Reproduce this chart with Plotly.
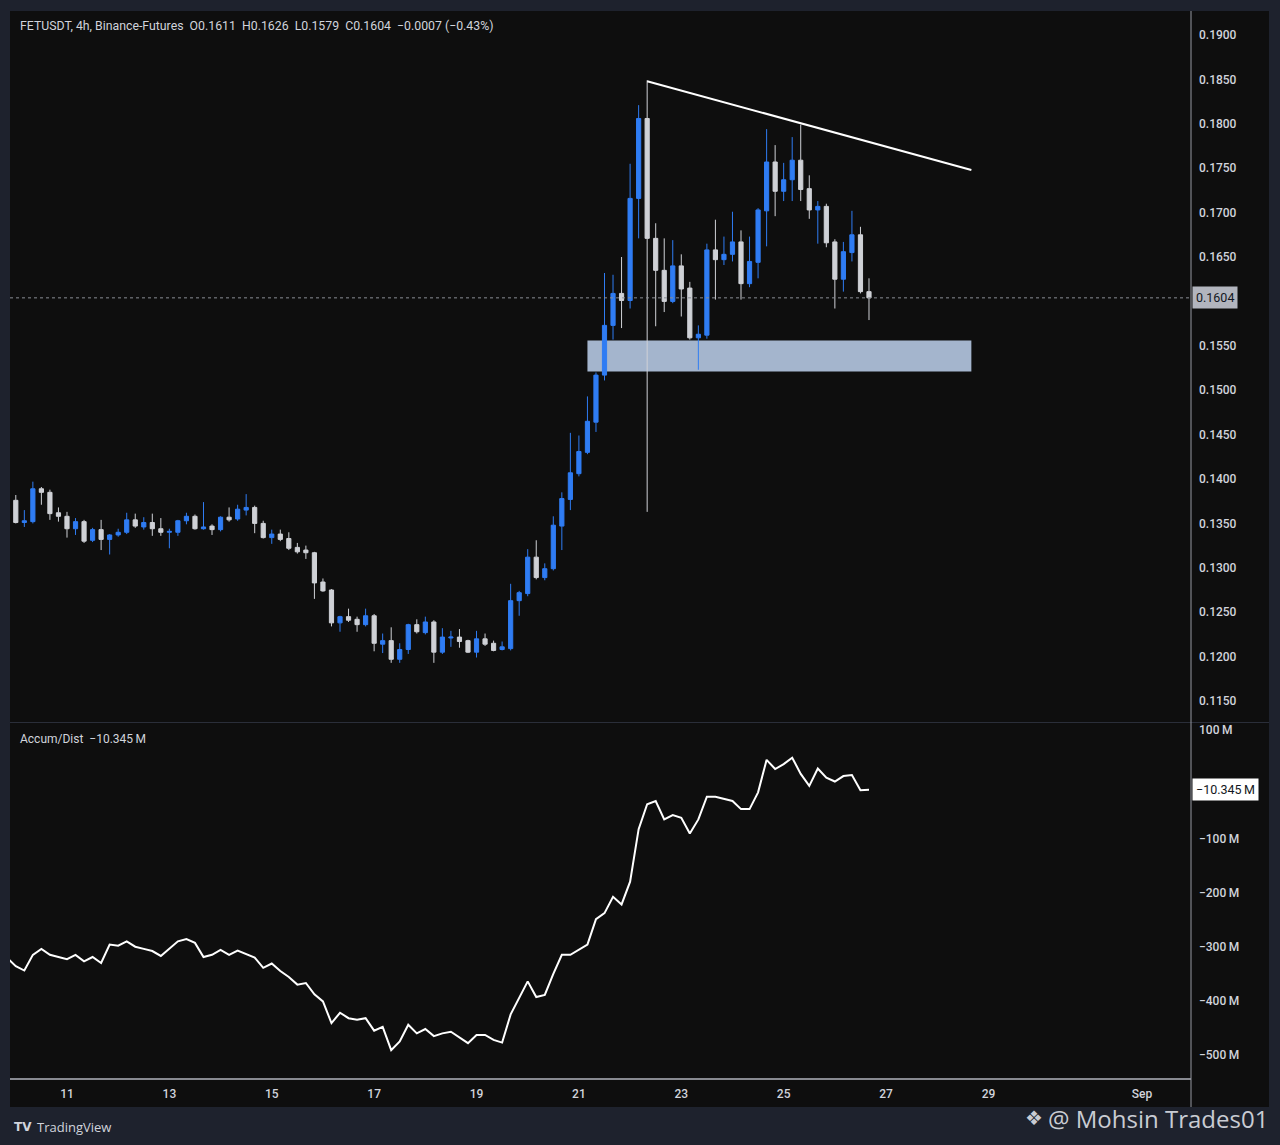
import plotly.graph_objects as go
import pandas as pd

W, H = 1280, 1145

# ---------------- data ----------------
candle_times = pd.date_range("2023-08-09 20:00", periods=102, freq="4h")

open_ = [0.1381, 0.1376, 0.1351, 0.1352, 0.1389, 0.1385, 0.1362, 0.1358, 0.1344, 0.1352,
         0.1331, 0.1343, 0.1332, 0.1337, 0.1340, 0.1354, 0.1346, 0.1351, 0.1344, 0.1340,
         0.1340, 0.1353, 0.1358, 0.1344, 0.1347, 0.1343, 0.1357, 0.1355, 0.1365, 0.1368,
         0.1350, 0.1334, 0.1338, 0.1333, 0.1323, 0.1320, 0.1317, 0.1284, 0.1275, 0.1238,
         0.1245, 0.1242, 0.1236, 0.1246, 0.1214, 0.1218, 0.1197, 0.1208, 0.1236, 0.1227,
         0.1239, 0.1205, 0.1221, 0.1222, 0.1218, 0.1205, 0.1220, 0.1215, 0.1208, 0.1209,
         0.1263, 0.1271, 0.1312, 0.1289, 0.1299, 0.1347, 0.1377, 0.1406, 0.1430, 0.1464,
         0.1517, 0.1573, 0.1609, 0.1601, 0.1716, 0.1806, 0.1671, 0.1635, 0.1600, 0.1640,
         0.1615, 0.1559, 0.1562, 0.1658, 0.1647, 0.1653, 0.1667, 0.1620, 0.1644, 0.1702,
         0.1757, 0.1724, 0.1737, 0.1759, 0.1727, 0.1703, 0.1707, 0.1667, 0.1625, 0.1655,
         0.1675, 0.1611]
high = [0.1386, 0.1382, 0.1365, 0.1397, 0.1391, 0.1388, 0.1368, 0.1363, 0.1356, 0.1354,
        0.1345, 0.1354, 0.1338, 0.1344, 0.1362, 0.1361, 0.1357, 0.1361, 0.1356, 0.1344,
        0.1354, 0.1362, 0.1360, 0.1374, 0.1349, 0.1358, 0.1368, 0.1371, 0.1383, 0.1370,
        0.1353, 0.1343, 0.1343, 0.1340, 0.1328, 0.1325, 0.1318, 0.1288, 0.1276, 0.1246,
        0.1254, 0.1245, 0.1254, 0.1248, 0.1226, 0.1233, 0.1215, 0.1237, 0.1242, 0.1245,
        0.1241, 0.1232, 0.1229, 0.1231, 0.1219, 0.1229, 0.1226, 0.1218, 0.1217, 0.1282,
        0.1274, 0.1321, 0.1331, 0.1305, 0.1358, 0.1385, 0.1452, 0.1449, 0.1493, 0.1520,
        0.1632, 0.1630, 0.1650, 0.1755, 0.1821, 0.1849, 0.1688, 0.1671, 0.1669, 0.1653,
        0.1622, 0.1573, 0.1665, 0.1692, 0.1673, 0.1701, 0.1680, 0.1673, 0.1705, 0.1794,
        0.1776, 0.1756, 0.1785, 0.1799, 0.1742, 0.1713, 0.1710, 0.1670, 0.1667, 0.1702,
        0.1684, 0.1626]
low = [0.1372, 0.1350, 0.1346, 0.1350, 0.1371, 0.1354, 0.1352, 0.1334, 0.1337, 0.1328,
       0.1329, 0.1320, 0.1315, 0.1335, 0.1338, 0.1345, 0.1343, 0.1336, 0.1336, 0.1322,
       0.1336, 0.1349, 0.1343, 0.1343, 0.1337, 0.1341, 0.1352, 0.1353, 0.1359, 0.1339,
       0.1333, 0.1327, 0.1330, 0.1320, 0.1316, 0.1310, 0.1265, 0.1273, 0.1234, 0.1228,
       0.1239, 0.1228, 0.1234, 0.1206, 0.1204, 0.1193, 0.1193, 0.1203, 0.1226, 0.1225,
       0.1193, 0.1203, 0.1211, 0.1210, 0.1204, 0.1199, 0.1212, 0.1206, 0.1207, 0.1207,
       0.1246, 0.1268, 0.1287, 0.1286, 0.1297, 0.1320, 0.1365, 0.1403, 0.1428, 0.1453,
       0.1511, 0.1557, 0.1570, 0.1592, 0.1671, 0.1363, 0.1572, 0.1588, 0.1598, 0.1583,
       0.1557, 0.1523, 0.1558, 0.1602, 0.1641, 0.1645, 0.1602, 0.1616, 0.1626, 0.1662,
       0.1696, 0.1713, 0.1713, 0.1713, 0.1693, 0.1665, 0.1661, 0.1592, 0.1611, 0.1645,
       0.1609, 0.1579]
close = [0.1376, 0.1351, 0.1353, 0.1389, 0.1385, 0.1361, 0.1358, 0.1344, 0.1352, 0.1330,
         0.1343, 0.1332, 0.1337, 0.1340, 0.1354, 0.1347, 0.1351, 0.1344, 0.1340, 0.1341,
         0.1353, 0.1358, 0.1344, 0.1346, 0.1343, 0.1357, 0.1354, 0.1366, 0.1368, 0.1350,
         0.1334, 0.1338, 0.1332, 0.1322, 0.1318, 0.1317, 0.1283, 0.1274, 0.1238, 0.1245,
         0.1241, 0.1236, 0.1246, 0.1215, 0.1218, 0.1197, 0.1208, 0.1236, 0.1228, 0.1239,
         0.1205, 0.1222, 0.1222, 0.1217, 0.1205, 0.1220, 0.1214, 0.1207, 0.1211, 0.1263,
         0.1272, 0.1312, 0.1289, 0.1299, 0.1348, 0.1378, 0.1407, 0.1431, 0.1465, 0.1517,
         0.1573, 0.1609, 0.1601, 0.1716, 0.1806, 0.1671, 0.1635, 0.1600, 0.1640, 0.1614,
         0.1559, 0.1563, 0.1658, 0.1647, 0.1653, 0.1667, 0.1620, 0.1645, 0.1703, 0.1757,
         0.1724, 0.1737, 0.1759, 0.1726, 0.1703, 0.1707, 0.1666, 0.1625, 0.1656, 0.1675,
         0.1611, 0.1604]

# Accumulation / Distribution (millions)
accum_dist = [-321, -336, -344, -315, -304, -315, -319, -323, -315, -327,
              -319, -330, -296, -298, -290, -300, -304, -308, -317, -303,
              -290, -286, -293, -319, -315, -306, -315, -307, -313, -320,
              -339, -331, -345, -356, -370, -367, -388, -401, -441, -422,
              -432, -435, -432, -455, -448, -491, -475, -444, -460, -452,
              -465, -460, -457, -467, -478, -463, -463, -472, -477, -425,
              -395, -364, -393, -389, -350, -315, -315, -305, -296, -249,
              -238, -208, -222, -180, -83, -37, -31, -65, -57, -62,
              -91, -65, -23, -23, -27, -31, -46, -46, -15, 45,
              28, 37, 49, 19, -3, 29, 12, 5, 15, 17,
              -11, -10.345]

last_price = 0.1604
last_ad = -10.345

trend_times = ["2023-08-22 08:00", "2023-08-28 16:00"]
trend_prices = [0.1848, 0.1748]

zone_times = ["2023-08-21 04:00", "2023-08-28 16:00"]
zone_prices = [0.1521, 0.1556]

price_ticks = [0.115, 0.12, 0.125, 0.13, 0.135, 0.14, 0.145, 0.15, 0.155,
               0.165, 0.17, 0.175, 0.18, 0.185, 0.19]
ad_ticks = [100, -100, -200, -300, -400, -500]
ad_tick_labels = ["100\u2009M", "\u2212100\u2009M", "\u2212200\u2009M", "\u2212300\u2009M",
                  "\u2212400\u2009M", "\u2212500\u2009M"]
date_ticks = ["2023-08-11", "2023-08-13", "2023-08-15", "2023-08-17", "2023-08-19",
              "2023-08-21", "2023-08-23", "2023-08-25", "2023-08-27", "2023-08-29",
              "2023-09-01"]
date_tick_labels = ["11", "13", "15", "17", "19", "21", "23", "25", "27", "29", "Sep"]

header = ("FETUSDT, 4h, Binance-Futures  O0.1611  H0.1626  L0.1579  C0.1604  "
          "\u22120.0007 (\u22120.43%)")

# ---------------- style ----------------
BLUE = "#2f7cf3"
GREY = "#cfd1d6"
BG = "#0e0e0e"
FRAME = "#1e222d"
TXT = "#d1d4dc"
FONT = "Roboto"

def px(xp):
    return xp / W

def py(yp):
    return 1 - yp / H

x_range = ["2023-08-09 21:17", "2023-09-01 22:58"]
xdom = [px(10), px(1191)]

fig = go.Figure()

fig.add_trace(go.Candlestick(
    x=candle_times, open=open_, high=high, low=low, close=close,
    xaxis="x", yaxis="y", whiskerwidth=0, showlegend=False, hoverinfo="skip",
    increasing=dict(line=dict(color=BLUE, width=1), fillcolor=BLUE),
    decreasing=dict(line=dict(color=GREY, width=1), fillcolor=GREY),
))

fig.add_trace(go.Scatter(
    x=trend_times, y=trend_prices, mode="lines", xaxis="x", yaxis="y",
    line=dict(color="#ffffff", width=2), showlegend=False, hoverinfo="skip",
))

fig.add_trace(go.Scatter(
    x=candle_times, y=accum_dist, mode="lines", xaxis="x2", yaxis="y2",
    line=dict(color="#ffffff", width=2), showlegend=False, hoverinfo="skip",
))

shapes = [
    # dark chart background
    dict(type="rect", xref="paper", yref="paper", x0=px(10), x1=px(1269),
         y0=py(1107), y1=py(11), fillcolor=BG, line=dict(width=0), layer="below"),
    # support zone
    dict(type="rect", xref="x", yref="y", x0=zone_times[0], x1=zone_times[1],
         y0=zone_prices[0], y1=zone_prices[1], fillcolor="#a4b5cd",
         line=dict(width=0), layer="below"),
    # last price dotted line
    dict(type="line", xref="paper", yref="y", x0=px(10), x1=px(1191),
         y0=last_price, y1=last_price, line=dict(color="#8a8d94", width=1, dash="dot")),
    # pane separator
    dict(type="line", xref="paper", yref="paper", x0=px(10), x1=px(1269),
         y0=py(722.5), y1=py(722.5), line=dict(color="#2a2e39", width=1)),
    # x axis top line
    dict(type="line", xref="paper", yref="paper", x0=px(10), x1=px(1191),
         y0=py(1079), y1=py(1079), line=dict(color="#b2b5be", width=1.5)),
    # price axis border
    dict(type="line", xref="paper", yref="paper", x0=px(1191), x1=px(1191),
         y0=py(1107), y1=py(11), line=dict(color="#9598a1", width=1)),
]

annotations = [
    dict(text=header, xref="paper", yref="paper", x=px(18), y=py(26),
         xanchor="left", yanchor="middle", showarrow=False,
         font=dict(family=FONT, size=12.3, color=TXT)),
    dict(text="Accum/Dist  \u221210.345\u2009M", xref="paper", yref="paper", x=px(18), y=py(739),
         xanchor="left", yanchor="middle", showarrow=False,
         font=dict(family=FONT, size=12, color=TXT)),
    dict(text="0.1604", xref="paper", yref="y", x=px(1192), y=last_price,
         xanchor="left", yanchor="middle", showarrow=False, bgcolor="#b2b5be",
         borderpad=3, font=dict(family=FONT, size=12.5, color="#131722")),
    dict(text="\u221210.345\u2009M", xref="paper", yref="y2", x=px(1192), y=last_ad,
         xanchor="left", yanchor="middle", showarrow=False, bgcolor="#ffffff",
         borderpad=3, font=dict(family=FONT, size=12.5, color="#131722")),
    dict(text="<b>TV</b>", xref="paper", yref="paper", x=px(12), y=py(1127),
         xanchor="left", yanchor="middle", showarrow=False,
         font=dict(family="DejaVu Sans", size=12, color=TXT)),
    dict(text="TradingView", xref="paper", yref="paper", x=px(35), y=py(1127),
         xanchor="left", yanchor="middle", showarrow=False,
         font=dict(family="Open Sans", size=13, color=TXT)),
    dict(text="\u2756", xref="paper", yref="paper", x=px(1045), y=py(1118),
         xanchor="right", yanchor="middle", showarrow=False,
         font=dict(family="DejaVu Sans", size=20, color="#c9ccd3")),
    dict(text="@ Mohsin Trades01", xref="paper", yref="paper", x=px(1270), y=py(1118),
         xanchor="right", yanchor="middle", showarrow=False,
         font=dict(family="Open Sans", size=24, color="#c9ccd3")),
]

axis_font = dict(family=FONT, size=12, color=TXT, weight=500)

fig.update_layout(
    width=W, height=H, margin=dict(l=0, r=0, t=0, b=0),
    paper_bgcolor=FRAME, plot_bgcolor="rgba(0,0,0,0)",
    showlegend=False, hovermode=False, shapes=shapes, annotations=annotations,
    xaxis=dict(domain=xdom, anchor="y", type="date", range=x_range,
               showticklabels=False, showgrid=False, zeroline=False,
               rangeslider=dict(visible=False), fixedrange=True),
    yaxis=dict(domain=[py(722), py(12)], anchor="x", side="right",
               range=[0.112637, 0.192590], tickvals=price_ticks,
               ticktext=[f"{v:.4f}" for v in price_ticks],
               showgrid=False, zeroline=False, ticks="", ticklabelstandoff=7,
               tickfont=axis_font),
    xaxis2=dict(domain=xdom, anchor="y2", type="date", range=x_range,
                tickvals=date_ticks, ticktext=date_tick_labels,
                showgrid=False, zeroline=False, ticks="", ticklabelstandoff=7,
                tickfont=axis_font),
    yaxis2=dict(domain=[py(1078), py(723)], anchor="x2", side="right",
                range=[-542.4, 113.0], tickvals=ad_ticks, ticktext=ad_tick_labels,
                showgrid=False, zeroline=False, ticks="", ticklabelstandoff=7,
                tickfont=axis_font),
)

fig.write_html("out.html", config={"displayModeBar": False})

# remove the browser's default page margin so the figure fills the window exactly
with open("out.html", "r", encoding="utf-8") as f:
    page = f.read()
page = page.replace("<head>", "<head><style>html,body{margin:0;padding:0;overflow:hidden;"
                    "background:#1e222d}</style>", 1)
with open("out.html", "w", encoding="utf-8") as f:
    f.write(page)
